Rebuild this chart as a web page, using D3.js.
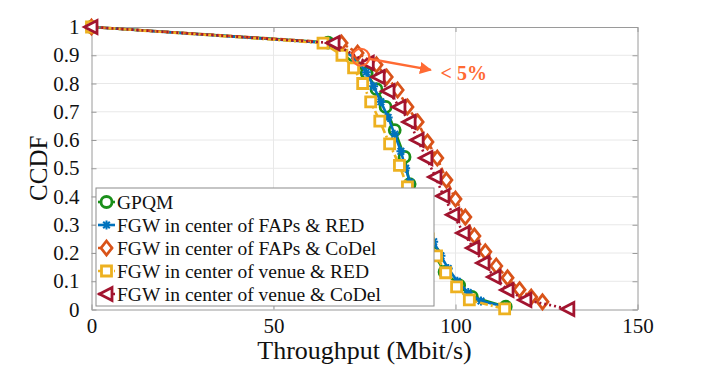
<!DOCTYPE html>
<html>
<head>
<meta charset="utf-8">
<script src="https://cdn.jsdelivr.net/npm/d3@7"></script>
<style>
  html, body { margin:0; padding:0; background:#fff; }
  svg text { font-family: "Liberation Serif", "Times New Roman", Times, "DejaVu Serif", serif !important; fill:#111; }
</style>
</head>
<body>
<div id="chart"></div>
<script>
// CCDF of throughput — five configurations
// values: [throughput Mbit/s, CCDF]

const gpqm = [
  [0,1],[65,0.945],[75.6,0.837],[78.3,0.78],[80.8,0.717],[83.3,0.635],[86,0.54],
  [87.4,0.444],[89,0.36],[91.5,0.28],[94,0.2],[97,0.133],[101,0.085],[104.5,0.045],[113.8,0.01]
];
const fapsRed = [
  [0,1],[65.5,0.943],[72.5,0.89],[75.5,0.84],[77.5,0.79],[79.5,0.735],[81.5,0.68],[83.3,0.62],
  [85,0.56],[86.3,0.5],[87.5,0.45],[88.5,0.4],[90,0.35],[92,0.29],[94,0.24],[96,0.19],
  [98,0.145],[100.5,0.1],[103.5,0.06],[107,0.03],[113.8,0.01]
];
const fapsCodel = [
  [0,1],[68.7,0.943],[73.1,0.908],[78.3,0.866],[81.1,0.823],[84.1,0.777],[86.8,0.717],
  [89.6,0.664],[92.3,0.593],[95,0.536],[97.5,0.458],[100,0.391],[102.7,0.327],[105.2,0.26],
  [108.2,0.204],[111.2,0.154],[114.3,0.112],[117.6,0.07],[120.8,0.044],[123.9,0.027]
];
const venueRed = [
  [0,1],[63.6,0.943],[68.8,0.9],[72,0.855],[74.5,0.8],[76.7,0.735],[79.2,0.667],[81.9,0.586],
  [84.6,0.51],[86.8,0.434],[88.5,0.37],[90,0.31],[92.5,0.25],[94.8,0.19],[97.3,0.13],
  [100.3,0.08],[103.8,0.034],[113.5,0.002]
];
const venueCodel = [
  [0,1],[66.5,0.943],[75.9,0.873],[78.9,0.823],[81.6,0.773],[84.6,0.717],[87.4,0.664],
  [89.6,0.6],[92,0.536],[94.5,0.469],[96.7,0.402],[99.4,0.335],[102.2,0.271],[104.9,0.218],
  [107.7,0.165],[110.7,0.115],[114.3,0.069],[119.2,0.034],[131,0.002]
];

const seriesNames = [
  "GPQM",
  "FGW in center of FAPs & RED",
  "FGW in center of FAPs & CoDel",
  "FGW in center of venue & RED",
  "FGW in center of venue & CoDel"
];
const xTicks = [0, 50, 100, 150];
const yTicks = [0, 0.1, 0.2, 0.3, 0.4, 0.5, 0.6, 0.7, 0.8, 0.9, 1];
const noteLabel = "< 5%";
const notePoint = [74, 0.893];   // circled point
const noteArrowTo = [93.2, 0.848];
const noteTextAt = [95.9, 0.812];

// styles
const styles = [
  {data:gpqm,       color:"#1a8f1a", dash:null,      marker:"circle"},
  {data:fapsRed,    color:"#0072BD", dash:null,      marker:"star"},
  {data:fapsCodel,  color:"#D95319", dash:"6,3",     marker:"diamond"},
  {data:venueRed,   color:"#EDB120", dash:"8,3,2,3", marker:"square"},
  {data:venueCodel, color:"#A2142F", dash:"2,3",     marker:"triangle"}
];
const noteColor = "#FF6A33";

const width = 706, height = 370;
const margin = {top:27, right:68.5, bottom:60.5, left:91.5};
const innerW = width - margin.left - margin.right;
const innerH = height - margin.top - margin.bottom;

const svg = d3.select("#chart").append("svg")
  .attr("width", width).attr("height", height);
const g = svg.append("g").attr("transform", `translate(${margin.left},${margin.top})`);

const x = d3.scaleLinear().domain([0,150]).range([0, innerW]);
const y = d3.scaleLinear().domain([0,1]).range([innerH, 0]);

// grid
g.append("g").selectAll("line").data(xTicks.slice(1,-1)).join("line")
  .attr("x1", d=>x(d)).attr("x2", d=>x(d)).attr("y1",0).attr("y2",innerH)
  .attr("stroke","#e8e8e8").attr("stroke-width",1);
g.append("g").selectAll("line").data(yTicks.slice(1,-1)).join("line")
  .attr("y1", d=>y(d)).attr("y2", d=>y(d)).attr("x1",0).attr("x2",innerW)
  .attr("stroke","#e8e8e8").attr("stroke-width",1);

// axes (inward ticks)
const fmt = d => d3.format("~g")(d);
const xAxis = g.append("g").attr("transform", `translate(0,${innerH})`)
  .call(d3.axisBottom(x).tickValues(xTicks).tickSizeInner(-5).tickSizeOuter(0).tickPadding(9).tickFormat(fmt));
const yAxis = g.append("g")
  .call(d3.axisLeft(y).tickValues(yTicks).tickSizeInner(-5).tickSizeOuter(0).tickPadding(12).tickFormat(fmt));
g.append("g").call(d3.axisTop(x).tickValues(xTicks).tickSizeInner(-5).tickSizeOuter(0).tickFormat(""));
g.append("g").attr("transform", `translate(${innerW},0)`)
  .call(d3.axisRight(y).tickValues(yTicks).tickSizeInner(-5).tickSizeOuter(0).tickFormat(""));
g.selectAll("g").attr("font-family", null);
g.selectAll(".domain").attr("stroke","#9a9a9a");
g.selectAll(".tick line").attr("stroke","#9a9a9a");
g.selectAll(".tick text").style("font-size","21px").attr("fill","#111");
xAxis.selectAll(".tick text").attr("dy","0.7em");

// axis labels
svg.append("text").attr("x", margin.left + innerW/2).attr("y", 359)
  .attr("text-anchor","middle").style("font-size","26px").text("Throughput (Mbit/s)");
svg.append("text").attr("transform", `translate(47,${margin.top + innerH/2}) rotate(-90)`)
  .attr("text-anchor","middle").style("font-size","25px").text("CCDF");

// markers
function markerPath(type){
  switch(type){
    case "circle":   return d3.symbol(d3.symbolCircle, 95)();
    case "square":   return "M-5,-5H5V5H-5Z";
    case "diamond":  return "M0,-7L5.5,0L0,7L-5.5,0Z";
    case "triangle": return "M-7,0L5.5,-6.5L5.5,6.5Z";
    case "star":     return "M-4.5,0H4.5M0,-4.5V4.5M-3.3,-3.3L3.3,3.3M-3.3,3.3L3.3,-3.3";
  }
}
function drawMarker(sel, s){
  return sel.append("path").attr("d", markerPath(s.marker))
    .attr("stroke", s.color).attr("stroke-width", s.marker==="star" ? 2 : 2.8)
    .attr("fill", s.marker==="star" ? "none" : "#fff");
}

const line = d3.line().x(d=>x(d[0])).y(d=>y(d[1]));

styles.forEach(s => {
  const sg = g.append("g");
  sg.append("path").datum(s.data).attr("d", line)
    .attr("fill","none").attr("stroke", s.color).attr("stroke-width", 2.6)
    .attr("stroke-dasharray", s.dash);
  sg.selectAll("g.m").data(s.data).join("g").attr("class","m")
    .attr("transform", d=>`translate(${x(d[0])},${y(d[1])})`)
    .each(function(){ drawMarker(d3.select(this), s); });
});

// annotation
const defs = svg.append("defs");
defs.append("marker").attr("id","arr").attr("viewBox","0 0 10 10").attr("refX",9).attr("refY",5)
  .attr("markerWidth",5).attr("markerHeight",5).attr("orient","auto")
  .append("path").attr("d","M0,0L10,5L0,10Z").attr("fill", noteColor);
g.append("circle").attr("cx", x(notePoint[0])).attr("cy", y(notePoint[1])).attr("r", 8.5)
  .attr("fill","none").attr("stroke", noteColor).attr("stroke-width", 2.2);
g.append("line")
  .attr("x1", x(notePoint[0]) + 8).attr("y1", y(notePoint[1]) + 1.5)
  .attr("x2", x(noteArrowTo[0])).attr("y2", y(noteArrowTo[1]))
  .attr("stroke", noteColor).attr("stroke-width", 2.4).attr("marker-end","url(#arr)");
g.append("text").attr("x", x(noteTextAt[0])).attr("y", y(noteTextAt[1]))
  .style("font-size","20px").style("font-weight","bold").style("fill", noteColor).text(noteLabel);

// legend
const lg = svg.append("g").attr("transform","translate(96,188)");
lg.append("rect").attr("width",338).attr("height",118)
  .attr("fill","#fff").attr("stroke","#8c8c8c").attr("stroke-width",1);
styles.forEach((s,i) => {
  const row = lg.append("g").attr("transform", `translate(0,${14 + i*23})`);
  row.append("line").attr("x1",2).attr("x2",19).attr("y1",0).attr("y2",0)
    .attr("stroke", s.color).attr("stroke-width",2.6).attr("stroke-dasharray", s.dash);
  drawMarker(row.append("g").attr("transform","translate(10.5,0)"), s);
  row.append("text").attr("x",21).attr("y",0).attr("dy","0.35em")
    .style("font-size","19.5px").text(seriesNames[i]);
});
</script>
</body>
</html>
